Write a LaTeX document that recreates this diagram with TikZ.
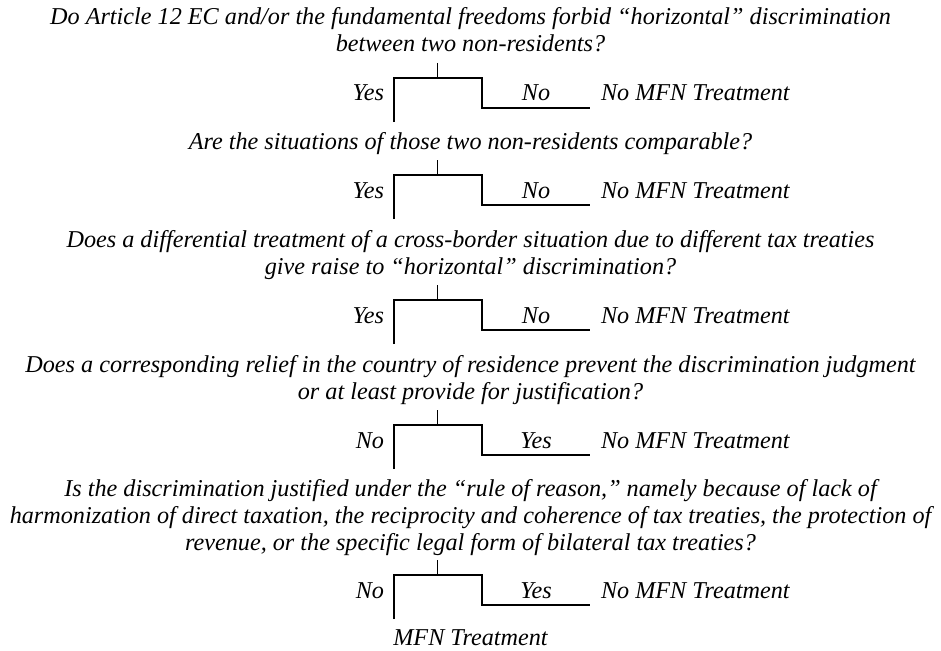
\documentclass[tikz,border=0pt]{standalone}
\usepackage{fontspec}
\setmainfont{Liberation Serif}
\begin{document}
\begin{tikzpicture}[x=1pt,y=-1pt,
  every node/.style={inner sep=0pt,outer sep=0pt,font=\fontsize{24.2}{27}\selectfont\itshape},
  question/.style={align=center,anchor=base},
  leftlab/.style={anchor=base east},
  midlab/.style={anchor=base},
  outcome/.style={anchor=base west},
  branch/.style={line width=1.5pt,line join=miter},
  stemline/.style={line width=0.8pt}]
\useasboundingbox (0,0) rectangle (941,650);
% questions (base anchor = baseline of last line)
\node[question] (q1) at (470.5,52) {Do Article 12 EC and/or the fundamental freedoms forbid “horizontal” discrimination\\between two non-residents?};
\node[question] (q2) at (470.5,149) {Are the situations of those two non-residents comparable?};
\node[question] (q3) at (470.5,274) {Does a differential treatment of a cross-border situation due to different tax treaties\\give raise to “horizontal” discrimination?};
\node[question] (q4) at (470.5,399) {Does a corresponding relief in the country of residence prevent the discrimination judgment\\or at least provide for justification?};
\node[question] (q5) at (470.5,550) {Is the discrimination justified under the “rule of reason,” namely because of lack of\\harmonization of direct taxation, the reciprocity and coherence of tax treaties, the protection of\\revenue, or the specific legal form of bilateral tax treaties?};
\node[anchor=base] (mfn) at (470.5,645) {MFN Treatment};
% branches
\foreach \i/\s/\yl/\nl in {1/63/Yes/No,2/160/Yes/No,3/285/Yes/No,4/410/No/Yes,5/560/No/Yes}{
  \pgfmathsetmacro{\t}{\s+15}
  \pgfmathsetmacro{\l}{\t+30}
  \pgfmathsetmacro{\b}{\t+44}
  \pgfmathsetmacro{\lab}{\t+23}
  \coordinate (s\i) at (437.7,\s);
  \coordinate (j\i) at (437.7,\t);
  \coordinate (tl\i) at (394,\t);
  \coordinate (tr\i) at (482,\t);
  \coordinate (lr\i) at (482,\l);
  \coordinate (le\i) at (590,\l);
  \coordinate (bl\i) at (394,\b);
  \node[leftlab] (y\i) at (384,\lab) {\yl};
  \node[midlab] (n\i) at (536,\lab) {\nl};
  \node[outcome] (o\i) at (601,\lab) {No MFN Treatment};
  \draw[stemline] (s\i) -- (j\i);
  \draw[branch] (bl\i) -- (tl\i) -- (tr\i) -- (lr\i) -- (le\i);
}
\end{tikzpicture}
\end{document}
